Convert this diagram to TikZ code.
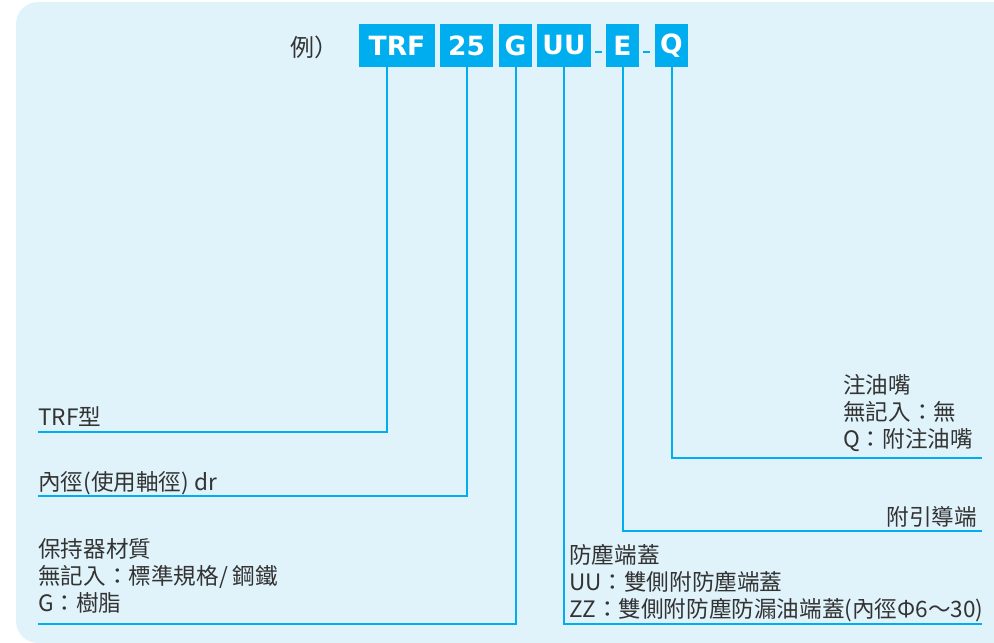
\documentclass[tikz,border=0pt]{standalone}
\usepackage{fontspec}
\setmainfont{Noto Sans CJK TC}
\newfontfamily\boxfont{DejaVu Sans}
\definecolor{bgblue}{HTML}{E0F3FB}
\definecolor{cyanbox}{HTML}{00AEEF}
\definecolor{txt}{HTML}{333333}
\begin{document}
\begin{tikzpicture}[x=1pt,y=-1pt,
  box/.style={fill=cyanbox,text=white,inner sep=0pt,minimum height=43pt,font=\boxfont\bfseries\fontsize{26.5}{26}\selectfont},
  conn/.style={draw=cyanbox,line width=2pt},
  lbl/.style={text=txt,inner sep=0pt,font=\fontsize{22.6}{27}\selectfont,align=left},
  lblr/.style={text=txt,inner sep=0pt,font=\fontsize{22.6}{27}\selectfont,align=right}]
\useasboundingbox (0,0) rectangle (994,643);
\fill[bgblue,rounded corners=22pt] (16,2) rectangle (1030,643);
% title
\node[text=txt,inner sep=0pt,anchor=base west,font=\fontsize{24}{24}\selectfont] (ex) at (290,56) {例）};
% boxes
\node[box,minimum width=76pt] (trf) at (397,45.5) {TRF};
\node[box,minimum width=53pt] (n25) at (466.5,45.5) {25};
\node[box,minimum width=33pt] (g) at (515.5,45.5) {G};
\node[box,minimum width=54pt] (uu) at (564,45.5) {UU};
\node[box,minimum width=33pt] (e) at (622.5,45.5) {E};
\node[box,minimum width=33pt] (q) at (671.5,45.5) {Q};
\fill[cyanbox] (595,51) rectangle (602,53);
\fill[cyanbox] (643,51) rectangle (650,53);
% corner coordinates
\coordinate (c1) at (38,432);
\coordinate (c2) at (38,496);
\coordinate (c3) at (38,624);
\coordinate (c4) at (982,624);
\coordinate (c5) at (982,531);
\coordinate (c6) at (982,458);
% connectors
\draw[conn] ([xshift=-10pt]trf.south) |- (c1);
\draw[conn] (n25.south) |- (c2);
\draw[conn] (g.south) |- (c3);
\draw[conn] (uu.south) |- (c4);
\draw[conn] (e.south) |- (c5);
\draw[conn] (q.south) |- (c6);
% labels
\node[lbl,anchor=base west] (t1) at (38,425) {TRF型};
\node[lbl,anchor=base west] (t2) at (38,490) {內徑(使用軸徑) dr};
\node[lbl,anchor=base west] (t3a) at (38,557) {保持器材質};
\node[lbl,anchor=base west] (t3b) at (38,584) {無記入：標準規格/ 鋼鐵};
\node[lbl,anchor=base west] (t3c) at (38,611) {G：樹脂};
\node[lbl,anchor=base west] (t4a) at (569,563) {防塵端蓋};
\node[lbl,anchor=base west] (t4b) at (569,590) {UU：雙側附防塵端蓋};
\node[lbl,anchor=base west] (t4c) at (569,617) {ZZ：雙側附防塵防漏油端蓋(內徑Φ6～30)};
\node[lblr,anchor=base east] (t5) at (977,525) {附引導端};
\node[lbl,anchor=base west] (t6a) at (843,393) {注油嘴};
\node[lbl,anchor=base west] (t6b) at (843,420) {無記入：無};
\node[lbl,anchor=base west] (t6c) at (843,447) {Q：附注油嘴};
\end{tikzpicture}
\end{document}
